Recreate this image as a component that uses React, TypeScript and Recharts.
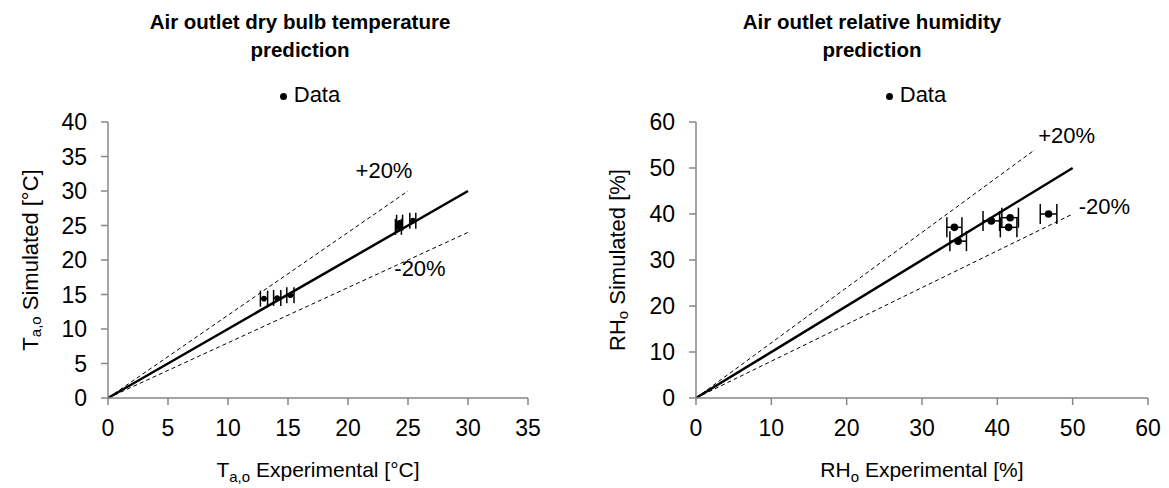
import React from 'react';
import {
  ScatterChart,
  Scatter,
  XAxis,
  YAxis,
  ErrorBar,
  ReferenceLine,
  ReferenceDot,
  Label,
} from 'recharts';

// Left chart: air outlet dry bulb temperature
const tempExperimental = [13.0, 14.1, 15.2, 24.2, 24.3, 25.4];
const tempSimulated = [14.4, 14.5, 14.9, 24.8, 25.4, 25.7];
const tempError = [0.3, 0.3, 0.3, 0.25, 0.25, 0.25];
const tempXTicks = [0, 5, 10, 15, 20, 25, 30, 35];
const tempYTicks = [0, 5, 10, 15, 20, 25, 30, 35, 40];
const tempUnityLine = [{ x: 0, y: 0 }, { x: 30, y: 30 }];
const tempUpperLine = [{ x: 0, y: 0 }, { x: 25, y: 30 }];
const tempLowerLine = [{ x: 0, y: 0 }, { x: 30, y: 24 }];
const tempUpperLabel = { x: 23.0, y: 33, text: '+20%' };
const tempLowerLabel = { x: 26.0, y: 18.8, text: '-20%' };

// Right chart: air outlet relative humidity
const rhExperimental = [34.3, 34.8, 39.2, 41.7, 41.5, 46.8];
const rhSimulated = [37.1, 34.1, 38.5, 39.2, 37.1, 40.0];
const rhError = [1.0, 1.1, 1.1, 1.1, 1.1, 1.1];
const rhTicks = [0, 10, 20, 30, 40, 50, 60];
const rhUnityLine = [{ x: 0, y: 0 }, { x: 50, y: 50 }];
const rhUpperLine = [{ x: 0, y: 0 }, { x: 45, y: 54 }];
const rhLowerLine = [{ x: 0, y: 0 }, { x: 50, y: 40 }];
const rhUpperLabel = { x: 49.2, y: 57.2, text: '+20%' };
const rhLowerLabel = { x: 54.2, y: 41.7, text: '-20%' };

const FONT = '"Liberation Sans", Arial, sans-serif';
const AXIS_GREY = '#878787';

const tempData = tempExperimental.map((x, i) => ({ x, y: tempSimulated[i], err: tempError[i] }));
const rhData = rhExperimental.map((x, i) => ({ x, y: rhSimulated[i], err: rhError[i] }));

const tickStyle = { fontSize: 23, fill: '#000', fontFamily: FONT };
const axisStyle = { stroke: AXIS_GREY, strokeWidth: 1.5 };

function yTitle(props: any, main: string, sub: string, rest: string, dx: number) {
  const vb = props.viewBox;
  const cx = vb.x + dx;
  const cy = vb.y + vb.height / 2;
  return (
    <text
      x={cx}
      y={cy}
      transform={`rotate(-90 ${cx} ${cy})`}
      textAnchor="middle"
      dominantBaseline="central"
      fontSize={22}
      fontFamily={FONT}
      fill="#000"
    >
      <tspan>{main}</tspan>
      <tspan fontSize={15} dy={5}>{sub}</tspan>
      <tspan dy={-5}>{rest}</tspan>
    </text>
  );
}

function xTitle(props: any, main: string, sub: string, rest: string) {
  const vb = props.viewBox;
  const cx = vb.x + vb.width / 2;
  const cy = vb.y + 79;
  return (
    <text x={cx} y={cy} textAnchor="middle" fontSize={21} fontFamily={FONT} fill="#000">
      <tspan>{main}</tspan>
      <tspan fontSize={15} dy={5}>{sub}</tspan>
      <tspan dy={-5}>{rest}</tspan>
    </text>
  );
}

const dot = (r: number) => (props: any) => <circle cx={props.cx} cy={props.cy} r={r} fill="#000" />;

function Heading({ center, lines }: { center: number; lines: string[] }) {
  return (
    <div
      style={{
        position: 'absolute',
        left: center - 250,
        top: 8,
        width: 500,
        textAlign: 'center',
        fontFamily: FONT,
        fontWeight: 'bold',
        fontSize: 20.5,
        lineHeight: '28px',
        color: '#000',
      }}
    >
      {lines.map((l) => (
        <div key={l}>{l}</div>
      ))}
    </div>
  );
}

function DataLegend({ center }: { center: number }) {
  return (
    <div
      style={{
        position: 'absolute',
        left: center - 100,
        top: 81,
        width: 200,
        textAlign: 'center',
        fontFamily: FONT,
        fontSize: 22,
        lineHeight: '28px',
        color: '#000',
      }}
    >
      <span
        style={{
          display: 'inline-block',
          width: 7,
          height: 7,
          borderRadius: 4,
          background: '#000',
          marginRight: 7,
          verticalAlign: 'middle',
        }}
      />
      Data
    </div>
  );
}

function pctLabel(text: string) {
  return { value: text, position: 'center' as const, fill: '#000', fontSize: 22, fontFamily: FONT };
}

export default function App() {
  return (
    <div style={{ position: 'absolute', left: 0, top: 0, width: 1169, height: 488, background: '#fff' }}>
      <div style={{ position: 'absolute', left: 0, top: 0 }}>
        <ScatterChart width={584} height={488} margin={{ top: 122, right: 56, bottom: 30, left: 0 }}>
          <XAxis
            type="number"
            dataKey="x"
            domain={[0, 35]}
            ticks={tempXTicks}
            interval={0}
            height={60}
            tick={tickStyle}
            tickSize={7}
            tickMargin={15}
            axisLine={axisStyle}
            tickLine={axisStyle}
          >
            <Label content={(p: any) => xTitle(p, 'T', 'a,o', ' Experimental [°C]')} />
          </XAxis>
          <YAxis
            type="number"
            dataKey="y"
            domain={[0, 40]}
            ticks={tempYTicks}
            interval={0}
            width={108}
            tick={tickStyle}
            tickSize={7}
            tickMargin={14}
            axisLine={axisStyle}
            tickLine={axisStyle}
          >
            <Label content={(p: any) => yTitle(p, 'T', 'a,o', ' Simulated [°C]', 30)} />
          </YAxis>
          <ReferenceLine segment={tempUpperLine} stroke="#000" strokeWidth={1} strokeDasharray="4 3" />
          <ReferenceLine segment={tempLowerLine} stroke="#000" strokeWidth={1} strokeDasharray="4 3" />
          <ReferenceLine segment={tempUnityLine} stroke="#000" strokeWidth={2.5} />
          <ReferenceDot x={tempUpperLabel.x} y={tempUpperLabel.y} r={0} stroke="none" label={pctLabel(tempUpperLabel.text)} />
          <ReferenceDot x={tempLowerLabel.x} y={tempLowerLabel.y} r={0} stroke="none" label={pctLabel(tempLowerLabel.text)} />
          <Scatter name="Data" data={tempData} shape={dot(2.8)} isAnimationActive={false}>
            <ErrorBar dataKey="err" direction="x" width={8} stroke="#000" strokeWidth={1.5} isAnimationActive={false} />
          </Scatter>
        </ScatterChart>
      </div>
      <div style={{ position: 'absolute', left: 584, top: 0 }}>
        <ScatterChart width={585} height={488} margin={{ top: 122, right: 21, bottom: 30, left: 0 }}>
          <XAxis
            type="number"
            dataKey="x"
            domain={[0, 60]}
            ticks={rhTicks}
            interval={0}
            height={60}
            tick={tickStyle}
            tickSize={7}
            tickMargin={15}
            axisLine={axisStyle}
            tickLine={axisStyle}
          >
            <Label content={(p: any) => xTitle(p, 'RH', 'o', ' Experimental [%]')} />
          </XAxis>
          <YAxis
            type="number"
            dataKey="y"
            domain={[0, 60]}
            ticks={rhTicks}
            interval={0}
            width={112}
            tick={tickStyle}
            tickSize={7}
            tickMargin={14}
            axisLine={axisStyle}
            tickLine={axisStyle}
          >
            <Label content={(p: any) => yTitle(p, 'RH', 'o', ' Simulated [%]', 33)} />
          </YAxis>
          <ReferenceLine segment={rhUpperLine} stroke="#000" strokeWidth={1} strokeDasharray="4 3" />
          <ReferenceLine segment={rhLowerLine} stroke="#000" strokeWidth={1} strokeDasharray="4 3" />
          <ReferenceLine segment={rhUnityLine} stroke="#000" strokeWidth={2.5} />
          <ReferenceDot x={rhUpperLabel.x} y={rhUpperLabel.y} r={0} stroke="none" label={pctLabel(rhUpperLabel.text)} />
          <ReferenceDot x={rhLowerLabel.x} y={rhLowerLabel.y} r={0} stroke="none" label={pctLabel(rhLowerLabel.text)} />
          <Scatter name="Data" data={rhData} shape={dot(3.8)} isAnimationActive={false}>
            <ErrorBar dataKey="err" direction="x" width={10} stroke="#000" strokeWidth={1.5} isAnimationActive={false} />
          </Scatter>
        </ScatterChart>
      </div>
      <Heading center={300} lines={['Air outlet dry bulb temperature', 'prediction']} />
      <DataLegend center={310} />
      <Heading center={872} lines={['Air outlet relative humidity', 'prediction']} />
      <DataLegend center={916} />
    </div>
  );
}
